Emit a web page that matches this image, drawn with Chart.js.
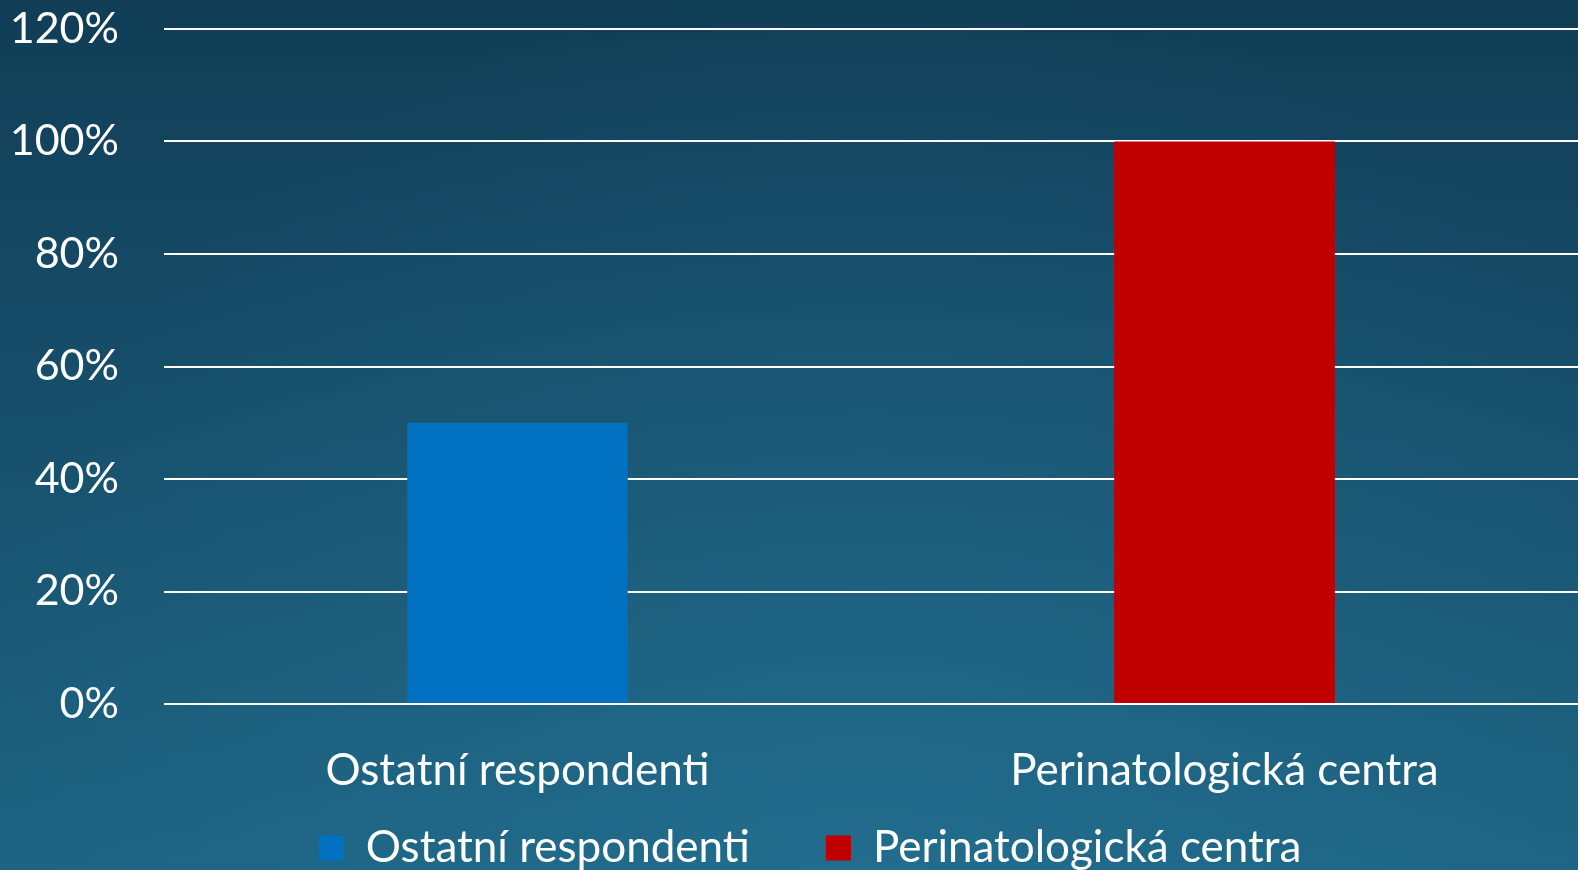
<!DOCTYPE html>
<html>
<head>
<meta charset="utf-8">
<script src="https://cdn.jsdelivr.net/npm/chart.js@4"></script>
<style>
  html, body { margin: 0; padding: 0; background: #164a66; }
  #wrap { width: 1578px; height: 870px; }
</style>
</head>
<body>
<div id="wrap"><canvas id="chart" width="1578" height="870"></canvas></div>
<script>
// Данные графика
const categories = ["Ostatní respondenti", "Perinatologická centra"];
const seriesNames = ["Ostatní respondenti", "Perinatologická centra"];
const otherValues = [50, null];
const centerValues = [null, 100];
const yTicks = [0, 20, 40, 60, 80, 100, 120];

const fontFamily = "Lato, 'Open Sans', sans-serif";

// Фон слайда с градиентом
const backgroundPlugin = {
  id: "slideBackground",
  beforeDraw(chart) {
    const ctx = chart.ctx;
    const w = chart.width, h = chart.height;
    ctx.save();
    const lin = ctx.createLinearGradient(0, 0, 0, h);
    lin.addColorStop(0, "#113d56");
    lin.addColorStop(1, "#1d6382");
    ctx.fillStyle = lin;
    ctx.fillRect(0, 0, w, h);
    const rad = ctx.createRadialGradient(w * 0.55, h * 1.05, 0, w * 0.55, h * 1.05, w * 0.6);
    rad.addColorStop(0, "rgba(40,120,155,0.45)");
    rad.addColorStop(1, "rgba(40,120,155,0)");
    ctx.fillStyle = rad;
    ctx.fillRect(0, 0, w, h);
    ctx.restore();
  }
};

// Сдвиг легенды немного вправо, как на слайде
const legendShiftPlugin = {
  id: "legendShift",
  afterLayout(chart) {
    if (chart.legend) {
      chart.legend.left += 21;
      chart.legend.right += 21;
    }
  }
};

const ctx = document.getElementById("chart").getContext("2d");
new Chart(ctx, {
  type: "bar",
  data: {
    labels: categories,
    datasets: [
      {
        label: seriesNames[0],
        data: otherValues,
        backgroundColor: "#0070c0",
        borderWidth: 0,
      },
      {
        label: seriesNames[1],
        data: centerValues,
        backgroundColor: "#c00000",
        borderWidth: 0,
      },
    ],
  },
  options: {
    responsive: false,
    animation: false,
    layout: { padding: { top: 0, right: 0, left: 0, bottom: -10 } },
    datasets: {
      bar: { categoryPercentage: 1, barPercentage: 0.312 },
    },
    scales: {
      x: {
        stacked: true,
        grid: { display: false, drawTicks: false },
        border: { display: false },
        ticks: {
          color: "#ffffff",
          font: { family: fontFamily, size: 44 },
          padding: 40,
        },
        afterFit(scale) { scale.height = 112; },
      },
      y: {
        min: 0,
        max: 120,
        afterBuildTicks(scale) {
          scale.ticks = yTicks.map((v) => ({ value: v }));
        },
        grid: { color: "#ffffff", lineWidth: 2, drawTicks: false },
        border: { display: false },
        ticks: {
          color: "#ffffff",
          font: { family: fontFamily, size: 43 },
          padding: 45,
          callback: (v) => v + "%",
        },
        afterFit(scale) {
          scale.width = 164;
          scale.paddingTop = 29;
          scale.paddingBottom = 0;
        },
      },
    },
    plugins: {
      legend: {
        position: "bottom",
        labels: {
          color: "#ffffff",
          font: { family: fontFamily, size: 44 },
          boxWidth: 25,
          boxHeight: 25,
          padding: 10,
          // Промежуток между элементами легенды
          generateLabels(chart) {
            const items = Chart.defaults.plugins.legend.labels.generateLabels(chart);
            items.forEach((item, i) => {
              if (i < items.length - 1) item.text += "\u2002\u2002\u2002";
            });
            return items;
          },
        },
      },
      tooltip: { enabled: false },
    },
  },
  plugins: [backgroundPlugin, legendShiftPlugin],
});
</script>
</body>
</html>
